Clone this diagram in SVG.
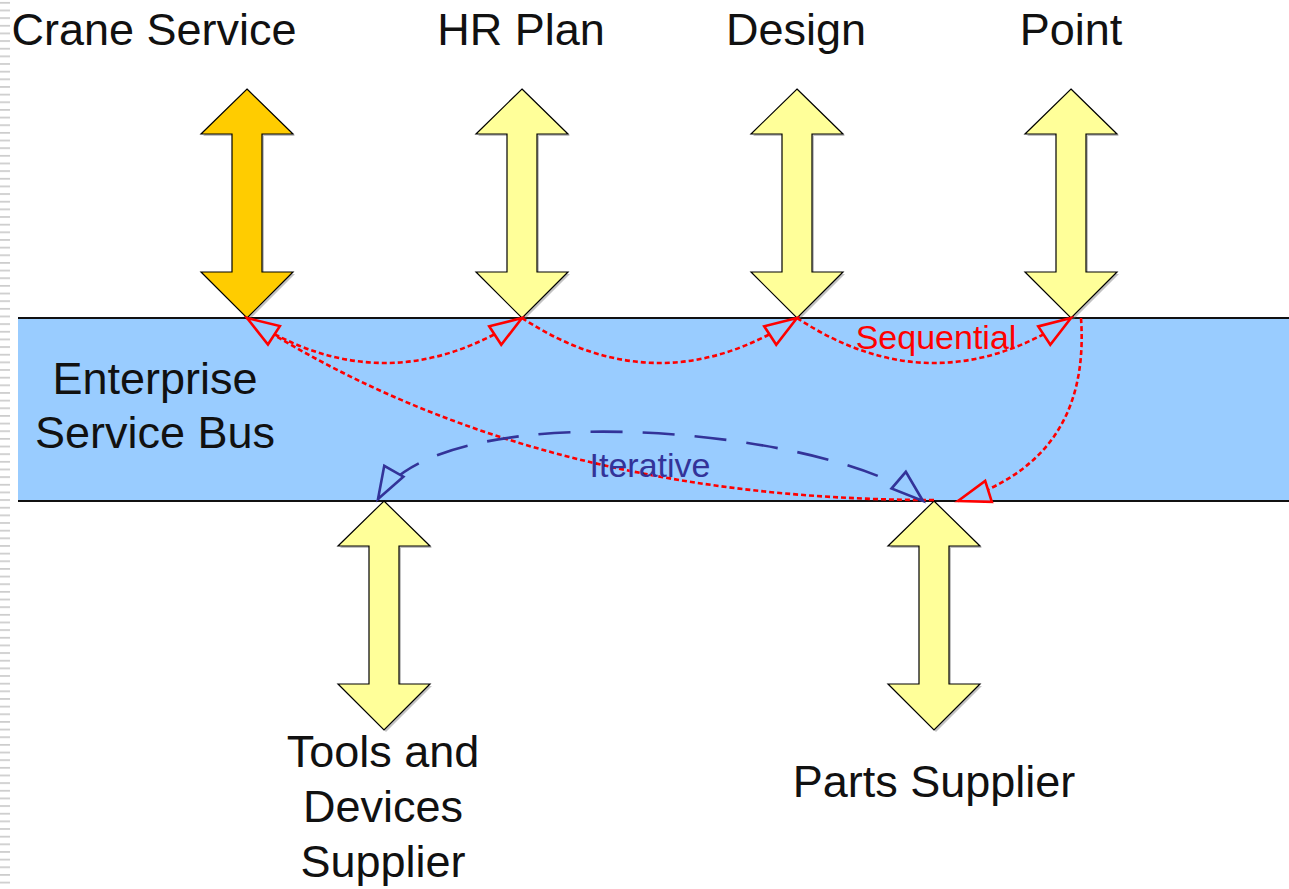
<svg xmlns="http://www.w3.org/2000/svg" xmlns:xlink="http://www.w3.org/1999/xlink" width="1289" height="889" viewBox="0 0 1289 889">
  <defs>
    <style>
      .lbl { font-family: "Liberation Sans", Arial, sans-serif; font-size: 45px; fill: #111; text-anchor: middle; }
      .seq { font-family: "Liberation Sans", Arial, sans-serif; font-size: 34px; fill: #ff0000; text-anchor: middle; }
      .itr { font-family: "Liberation Sans", Arial, sans-serif; font-size: 34px; fill: #333399; text-anchor: middle; }
      .dbl { stroke: #000; stroke-width: 1.2; stroke-linejoin: miter; }
      .dbl-shadow { fill: #777; opacity: 0.45; }
      .pale { fill: #ffff99; }
      .gold { fill: #ffcc00; }
      .bus-fill { fill: #99ccff; }
      .bus-edge { stroke: #111; stroke-width: 1.8; }
      .seq-line { fill: none; stroke: #ff0000; stroke-width: 2.6; stroke-dasharray: 5 3; marker-end: url(#head-red); }
      .itr-line { fill: none; stroke: #333399; stroke-width: 2.6; stroke-dasharray: 32 20; marker-start: url(#head-blue); marker-end: url(#head-blue); }
    </style>
    <!-- double-headed block arrow, anchored at its upper tip -->
    <path id="double-arrow" d="M0,0 L46,45 L15,45 L15,183 L46,183 L0,229 L-46,183 L-15,183 L-15,45 L-46,45 Z"/>
    <marker id="head-red" markerUnits="userSpaceOnUse" orient="auto" refX="0" refY="0" markerWidth="40" markerHeight="30" overflow="visible">
      <path d="M0,0 L-32,-11 L-32,11 Z" fill="#99ccff" stroke="#ff0000" stroke-width="2.6" stroke-dasharray="none"/>
    </marker>
    <marker id="head-blue" markerUnits="userSpaceOnUse" orient="auto-start-reverse" refX="0" refY="0" markerWidth="40" markerHeight="30" overflow="visible">
      <path d="M0,0 L-32,-11 L-32,11 Z" fill="#99ccff" stroke="#333399" stroke-width="2.6" stroke-dasharray="none"/>
    </marker>
    <pattern id="edge-ticks" patternUnits="userSpaceOnUse" width="10" height="7.65">
      <rect x="0" y="2" width="10" height="1.6" fill="#c8c8c8"/>
    </pattern>
  </defs>

  <rect width="1289" height="889" fill="#ffffff"/>
  <rect x="0" y="0" width="10" height="889" fill="url(#edge-ticks)"/>

  <!-- Enterprise Service Bus band -->
  <g id="bus">
    <rect class="bus-fill" x="18" y="318" width="1275" height="183"/>
    <line class="bus-edge" x1="18" y1="318" x2="1289" y2="318"/>
    <line class="bus-edge" x1="18" y1="501" x2="1289" y2="501"/>
    <text class="lbl" x="155" y="394">Enterprise</text>
    <text class="lbl" x="155" y="448">Service Bus</text>
  </g>

  <!-- services above the bus -->
  <g id="crane-service">
    <use xlink:href="#double-arrow" class="dbl-shadow" transform="translate(249,91)"/>
    <use xlink:href="#double-arrow" class="dbl gold" transform="translate(247,89)"/>
    <text class="lbl" x="154" y="45">Crane Service</text>
  </g>
  <g id="hr-plan">
    <use xlink:href="#double-arrow" class="dbl-shadow" transform="translate(524,91)"/>
    <use xlink:href="#double-arrow" class="dbl pale" transform="translate(522,89)"/>
    <text class="lbl" x="521" y="45">HR Plan</text>
  </g>
  <g id="design">
    <use xlink:href="#double-arrow" class="dbl-shadow" transform="translate(799,91)"/>
    <use xlink:href="#double-arrow" class="dbl pale" transform="translate(797,89)"/>
    <text class="lbl" x="796" y="45">Design</text>
  </g>
  <g id="point">
    <use xlink:href="#double-arrow" class="dbl-shadow" transform="translate(1073,91)"/>
    <use xlink:href="#double-arrow" class="dbl pale" transform="translate(1071,89)"/>
    <text class="lbl" x="1071" y="45">Point</text>
  </g>

  <!-- suppliers below the bus -->
  <g id="tools-supplier">
    <use xlink:href="#double-arrow" class="dbl-shadow" transform="translate(386,503)"/>
    <use xlink:href="#double-arrow" class="dbl pale" transform="translate(384,501)"/>
    <text class="lbl" x="383" y="767">Tools and</text>
    <text class="lbl" x="383" y="822">Devices</text>
    <text class="lbl" x="383" y="877">Supplier</text>
  </g>
  <g id="parts-supplier">
    <use xlink:href="#double-arrow" class="dbl-shadow" transform="translate(936,503)"/>
    <use xlink:href="#double-arrow" class="dbl pale" transform="translate(934,501)"/>
    <text class="lbl" x="934" y="797">Parts Supplier</text>
  </g>

  <!-- message flows along the bus -->
  <g id="connectors">
    <path class="seq-line" d="M247,318 Q384.5,408 522,318"/>
    <path class="seq-line" d="M522,318 Q659.5,408 797,318"/>
    <path class="seq-line" d="M797,318 Q934,408 1071,318"/>
    <path class="seq-line" d="M1081,318 C1088,420 1040,475 958,501"/>
    <path class="seq-line" d="M934,500 Q529.5,500 247,318"/>
    <path class="itr-line" d="M923,501 C840,430 440,390 378,499"/>
    <text class="seq" x="936" y="349">Sequential</text>
    <text class="itr" x="650" y="477">Iterative</text>
  </g>
</svg>
